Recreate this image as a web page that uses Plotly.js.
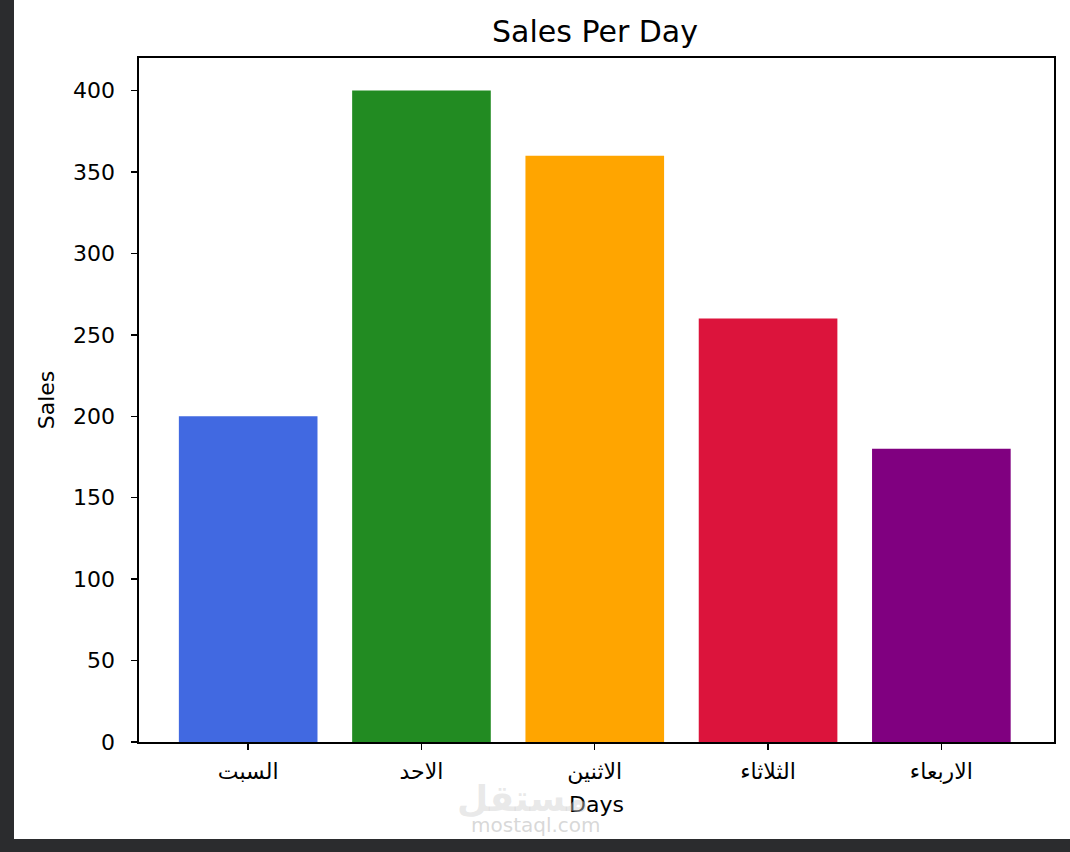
<!DOCTYPE html>
<html>
<head>
<meta charset="utf-8">
<script src="https://cdn.plot.ly/plotly-3.0.1.min.js"></script>
<style>
  html, body { margin: 0; padding: 0; background: #2b2c2e; width: 1070px; height: 852px; overflow: hidden; }
  #chart { position: absolute; left: 14px; top: 0; width: 1056px; height: 839px; background: #fff; }
</style>
</head>
<body>
<div id="chart"></div>
<script>
// Chart data
const days = ['السبت', 'الاحد', 'الاثنين', 'الثلاثاء', 'الاربعاء'];
const sales = [200, 400, 360, 260, 180];
const barColors = ['#4169E1', '#228B22', '#FFA500', '#DC143C', '#800080'];
const yTicks = [0, 50, 100, 150, 200, 250, 300, 350, 400];

const font = { family: 'DejaVu Sans, sans-serif', color: '#000', size: 22 };

const trace = {
    x: days.map((d, i) => i),
    y: sales,
    type: 'bar',
    marker: { color: barColors, line: { width: 0 } },
    width: 0.8,
    hoverinfo: 'skip'
};

const axisStyle = {
    showline: true,
    mirror: true,
    linecolor: '#000',
    linewidth: 1.6,
    ticks: 'outside',
    ticklen: 6,
    tickwidth: 1.4,
    tickcolor: '#000',
    showgrid: false,
    zeroline: false,
    tickfont: font
};

const layout = {
    width: 1056,
    height: 839,
    paper_bgcolor: '#fff',
    plot_bgcolor: '#fff',
    font: font,
    margin: { l: 125, r: 16, t: 58, b: 97 },
    showlegend: false,
    title: {
        text: 'Sales Per Day',
        font: { family: 'DejaVu Sans, sans-serif', size: 30, color: '#000' },
        x: 0.5502, xanchor: 'center',
        y: 0.962, yanchor: 'middle'
    },
    xaxis: {
        ...axisStyle,
        range: [-0.63, 4.65],
        tickmode: 'array',
        tickvals: days.map((d, i) => i),
        ticktext: days,
        ticklabelstandoff: 3,
        title: { text: 'Days', font: font, standoff: 13 }
    },
    yaxis: {
        ...axisStyle,
        range: [0, 420],
        tickmode: 'array',
        tickvals: yTicks,
        ticktext: yTicks.map(String),
        ticklabelstandoff: 12,
        title: { text: 'Sales', font: font, standoff: 12 }
    },
    // faint site watermark under the x axis
    annotations: [
        {
            text: '<b>مستقل</b>', xref: 'paper', yref: 'paper', x: 0.42, y: -0.083,
            xanchor: 'center', yanchor: 'middle',
            showarrow: false, font: { family: 'DejaVu Sans, sans-serif', size: 36, color: 'rgba(205,205,205,0.45)' }
        },
        {
            text: 'mostaql.com', xref: 'paper', yref: 'paper', x: 0.434, y: -0.121,
            xanchor: 'center', yanchor: 'middle',
            showarrow: false, font: { family: 'DejaVu Sans, sans-serif', size: 20, color: 'rgba(190,190,190,0.6)' }
        }
    ]
};

Plotly.newPlot('chart', [trace], layout, { displayModeBar: false, staticPlot: true });
</script>
</body>
</html>
